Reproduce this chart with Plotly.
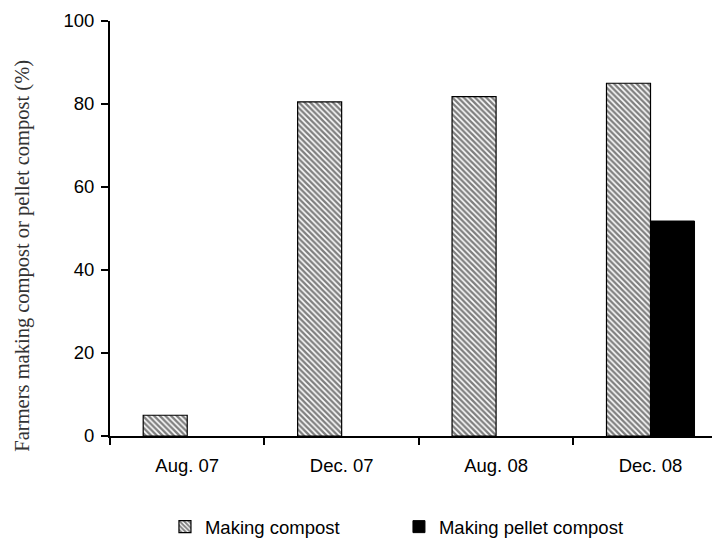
import plotly.graph_objects as go

categories = ["Aug. 07", "Dec. 07", "Aug. 08", "Dec. 08"]
compost = [5.0, 80.5, 81.8, 85.0]
pellet = [None, None, None, 51.8]
y_ticks = [0, 20, 40, 60, 80, 100]

fig = go.Figure()
fig.add_trace(go.Bar(
    x=categories, y=compost, name="Making compost",
    marker=dict(color="white", line=dict(color="black", width=1.2),
                pattern=dict(shape="\\", fgcolor="black", bgcolor="white", size=4, solidity=0.6)),
))
fig.add_trace(go.Bar(
    x=categories, y=pellet, name="Making pellet compost",
    marker=dict(color="black", line=dict(color="black", width=1)),
))

fig.update_layout(
    width=720, height=543,
    margin=dict(l=102, r=8, t=13, b=115),
    paper_bgcolor="white", plot_bgcolor="white",
    barmode="group", bargap=0.43, bargroupgap=0,
    font=dict(family="Liberation Sans, Arial", size=18.5, color="black"),
    showlegend=True,
    legend=dict(orientation="h", xref="container", yref="container",
                x=0.218, y=0.044, xanchor="left", yanchor="middle",
                font=dict(size=18.5), entrywidth=189, traceorder="normal",
                itemwidth=30),
    xaxis=dict(range=[-0.5, 3.45], showline=True, linecolor="black", linewidth=2,
               ticks="outside", tickson="boundaries", ticklen=7, tickwidth=2,
               tickcolor="black", showgrid=False, zeroline=False, automargin=False,
               ticklabelstandoff=12, tickfont=dict(size=18.5)),
    yaxis=dict(range=[0, 100], tickvals=y_ticks, showline=True, linecolor="black",
               linewidth=2, ticks="outside", ticklen=7, tickwidth=2, tickcolor="black",
               showgrid=False, zeroline=False, automargin=False, ticklabelstandoff=3,
               tickfont=dict(size=18.5)),
    annotations=[dict(text="Farmers making compost or pellet compost (%)",
                      xref="paper", yref="paper", x=-0.143, y=0.434,
                      xanchor="center", yanchor="middle", textangle=-90,
                      showarrow=False,
                      font=dict(family="Liberation Serif, Times New Roman", size=20.5, color="#333"))],
)

fig.write_html("out.html")
